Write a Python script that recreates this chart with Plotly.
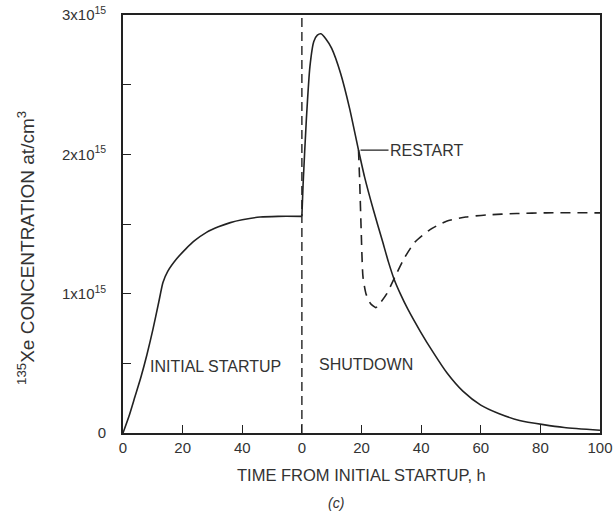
import plotly.graph_objects as go

# ---- data (Xe-135 concentration in units of 1e15 at/cm^3) ----
shutdown_time = 60  # h from initial startup

startup_t = [0, 2, 4, 6, 8, 10, 12, 13.4, 15, 18, 21, 24, 28, 32, 36, 40, 46, 52, 60]
startup_xe = [0, 0.12, 0.26, 0.40, 0.56, 0.74, 0.94, 1.08, 1.16, 1.25, 1.32, 1.38, 1.44, 1.48, 1.51, 1.53, 1.55, 1.555, 1.555]

shutdown_s = [0, 0.4, 1.5, 2.7, 4.0, 5.2, 6.4, 8, 10, 13, 16, 19, 21, 24, 27, 29, 31, 33, 35.5, 39.7, 44, 48.7, 54, 60, 66, 73, 81, 88, 100]
shutdown_xe = [1.555, 1.78, 2.25, 2.63, 2.81, 2.855, 2.865, 2.83, 2.76, 2.58, 2.33, 2.03, 1.84, 1.60, 1.38, 1.23, 1.10, 1.00, 0.89, 0.73, 0.58, 0.43, 0.30, 0.20, 0.14, 0.09, 0.06, 0.04, 0.02]

restart_s = [19, 19.4, 19.9, 20.5, 21.5, 23.0, 24.8, 26.5, 28.5, 31.2, 34.5, 37.9, 43, 48.5, 55, 62, 72, 82, 100]
restart_xe = [2.03, 1.80, 1.45, 1.12, 1.00, 0.93, 0.90, 0.94, 1.00, 1.12, 1.26, 1.37, 1.46, 1.52, 1.55, 1.565, 1.575, 1.58, 1.58]

x_tickvals = [0, 20, 40, 60, 80, 100, 120, 140, 160]
x_ticktext = ["0", "20", "40", "0", "20", "40", "60", "80", "100"]
y_tickvals = [0, 0.5, 1, 1.5, 2, 2.5, 3]
y_ticktext = ["0", "", "1x10<sup>15</sup>", "", "2x10<sup>15</sup>", "", "3x10<sup>15</sup>"]

FONT = "Liberation Sans, Arial, sans-serif"
INK = "#222222"
TXT = "#333333"

fig = go.Figure()
fig.add_trace(go.Scatter(x=startup_t, y=startup_xe, mode="lines",
                         line=dict(color=INK, width=1.6, shape="spline", smoothing=0.6),
                         hoverinfo="skip"))
fig.add_trace(go.Scatter(x=[shutdown_time + s for s in shutdown_s], y=shutdown_xe, mode="lines",
                         line=dict(color=INK, width=1.6, shape="spline", smoothing=0.6),
                         hoverinfo="skip"))
fig.add_trace(go.Scatter(x=[shutdown_time + s for s in restart_s], y=restart_xe, mode="lines",
                         line=dict(color=INK, width=1.6, dash="10px,7px", shape="spline", smoothing=0.6),
                         hoverinfo="skip"))
fig.add_trace(go.Scatter(x=[shutdown_time, shutdown_time], y=[0, 3], mode="lines",
                         line=dict(color=INK, width=1.4, dash="9px,5px"), hoverinfo="skip"))

axis_common = dict(showline=True, mirror=True, linecolor=INK, linewidth=1.6,
                   showgrid=False, zeroline=False, ticks="inside", ticklen=8,
                   tickwidth=1.4, tickcolor=INK, automargin=False,
                   tickfont=dict(family=FONT, size=15, color=TXT))

fig.update_xaxes(range=[0, 160], tickmode="array", tickvals=x_tickvals, ticktext=x_ticktext,
                 ticklabelstandoff=0, **axis_common)
fig.update_yaxes(range=[0, 3], tickmode="array", tickvals=y_tickvals, ticktext=y_ticktext,
                 ticklabelstandoff=12, **axis_common)

ann_font = dict(family=FONT, size=16, color=TXT)
fig.add_annotation(x=31.0, y=0.475, text="INITIAL STARTUP", showarrow=False, font=ann_font)
fig.add_annotation(x=81.5, y=0.49, text="SHUTDOWN", showarrow=False, font=ann_font)
fig.add_annotation(x=shutdown_time + restart_s[0], y=restart_xe[0], text="RESTART",
                   showarrow=True, arrowhead=0, arrowwidth=1.4, arrowcolor=INK,
                   ax=68, ay=0, standoff=2, font=ann_font)
fig.add_annotation(xref="paper", yref="paper", x=0.5, y=-0.10, xanchor="center", yanchor="middle",
                   text="TIME FROM INITIAL STARTUP, h",
                   showarrow=False, font=dict(family=FONT, size=16.5, color=TXT))
fig.add_annotation(xref="paper", yref="paper", x=0.5 - 26 / 477, y=-0.168, xanchor="center",
                   yanchor="middle", text="<i>(c)</i>",
                   showarrow=False, font=dict(family=FONT, size=14, color=TXT))
fig.add_annotation(xref="paper", yref="paper", x=-0.203, y=0.443, xanchor="center", yanchor="middle",
                   textangle=-90,
                   text="<sup>135</sup>Xe CONCENTRATION at/cm<sup>3</sup>",
                   showarrow=False, font=dict(family=FONT, size=19, color=TXT))

fig.update_layout(width=614, height=522, margin=dict(l=123, r=14, t=15, b=89, autoexpand=False),
                  paper_bgcolor="white", plot_bgcolor="white", showlegend=False)

fig.write_html("out.html")
